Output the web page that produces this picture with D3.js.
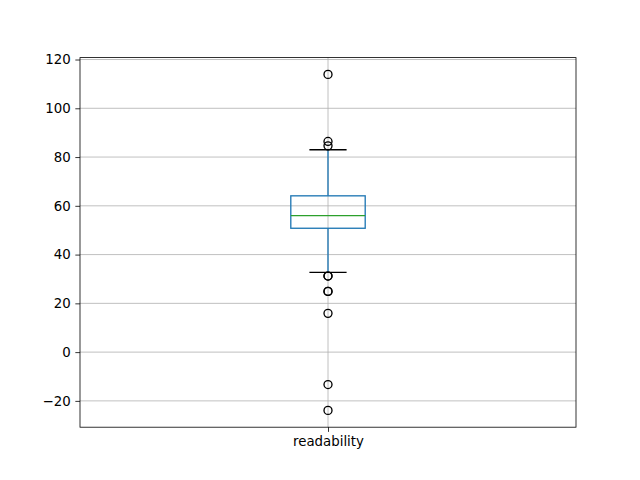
<!DOCTYPE html>
<html>
<head>
<meta charset="utf-8">
<script src="https://cdn.jsdelivr.net/npm/d3@7"></script>
<style>
  body { margin: 0; background: #fff; }
</style>
</head>
<body>
<div id="chart"></div>
<script>
const categories = ["readability"];
const q1 = [50.8];
const medians = [56];
const q3 = [64.1];
const whiskerLow = [32.7];
const whiskerHigh = [83];
const outliers = [[113.9, 86.4, 84.6, 31.2, 31.2, 24.9, 24.9, 15.9, -13.3, -23.9]];
const yTicks = [-20, 0, 20, 40, 60, 80, 100, 120];

const W = 640, H = 480;
const margin = { top: 57.6, right: 64, bottom: 52.8, left: 80 };
const width = W - margin.left - margin.right,
      height = H - margin.top - margin.bottom;

const svg = d3.select("#chart")
  .append("svg")
  .attr("width", W)
  .attr("height", H)
  .style("font-family", "'DejaVu Sans', sans-serif");

const g = svg.append("g")
  .attr("transform", `translate(${margin.left},${margin.top})`);

// x positions 1..n, matplotlib style limits
const x = d3.scaleLinear().domain([0.5, categories.length + 0.5]).range([0, width]);

const allVals = outliers.flat().concat(whiskerLow, whiskerHigh);
const lo = d3.min(allVals), hi = d3.max(allVals);
const pad = (hi - lo) * 0.05;
const y = d3.scaleLinear().domain([lo - pad, hi + pad]).range([height, 0]);

// grid
g.append("g")
  .selectAll("line.h")
  .data(yTicks)
  .enter()
  .append("line")
  .attr("x1", 0).attr("x2", width)
  .attr("y1", d => y(d)).attr("y2", d => y(d))
  .attr("stroke", "#b0b0b0").attr("stroke-width", 0.8);

g.append("g")
  .selectAll("line.v")
  .data(categories)
  .enter()
  .append("line")
  .attr("x1", (d, i) => x(i + 1)).attr("x2", (d, i) => x(i + 1))
  .attr("y1", 0).attr("y2", height)
  .attr("stroke", "#b0b0b0").attr("stroke-width", 0.8);

const boxW = x(1.075) - x(0.925);
const capW = x(1.0375) - x(0.9625);

const boxes = g.selectAll(".box")
  .data(categories)
  .enter()
  .append("g")
  .attr("class", "box");

boxes.each(function (d, i) {
  const b = d3.select(this);
  const cx = x(i + 1);
  // whiskers
  b.append("line")
    .attr("x1", cx).attr("x2", cx)
    .attr("y1", y(q1[i])).attr("y2", y(whiskerLow[i]))
    .attr("stroke", "#1f77b4").attr("stroke-width", 1.33);
  b.append("line")
    .attr("x1", cx).attr("x2", cx)
    .attr("y1", y(q3[i])).attr("y2", y(whiskerHigh[i]))
    .attr("stroke", "#1f77b4").attr("stroke-width", 1.33);
  // caps
  [whiskerLow[i], whiskerHigh[i]].forEach(v => {
    b.append("line")
      .attr("x1", cx - capW / 2).attr("x2", cx + capW / 2)
      .attr("y1", y(v)).attr("y2", y(v))
      .attr("stroke", "#000").attr("stroke-width", 1.33);
  });
  // box
  b.append("rect")
    .attr("x", cx - boxW / 2)
    .attr("y", y(q3[i]))
    .attr("width", boxW)
    .attr("height", y(q1[i]) - y(q3[i]))
    .attr("fill", "none")
    .attr("stroke", "#1f77b4").attr("stroke-width", 1.33);
  // median
  b.append("line")
    .attr("x1", cx - boxW / 2).attr("x2", cx + boxW / 2)
    .attr("y1", y(medians[i])).attr("y2", y(medians[i]))
    .attr("stroke", "#2ca02c").attr("stroke-width", 1.33);
  // fliers
  b.selectAll("circle")
    .data(outliers[i])
    .enter()
    .append("circle")
    .attr("cx", cx)
    .attr("cy", v => y(v))
    .attr("r", 4)
    .attr("fill", "none")
    .attr("stroke", "#000").attr("stroke-width", 1.33);
});

// axes
const yAxis = g.append("g")
  .call(d3.axisLeft(y).tickValues(yTicks).tickSize(4.67).tickPadding(4.67).tickFormat(d => d < 0 ? "\u2212" + Math.abs(d) : d));
const xAxis = g.append("g")
  .attr("transform", `translate(0,${height})`)
  .call(d3.axisBottom(x).tickValues(categories.map((d, i) => i + 1)).tickSize(4.67).tickPadding(4.67).tickFormat((d, i) => categories[i]));

[yAxis, xAxis].forEach(a => {
  a.select(".domain").remove();
  a.selectAll(".tick line").attr("stroke", "#000").attr("stroke-width", 0.8);
  a.selectAll("text").style("font-size", "13.33px").attr("fill", "#000")
    .style("font-family", "'DejaVu Sans', sans-serif");
});

// frame
g.append("rect")
  .attr("width", width).attr("height", height)
  .attr("fill", "none").attr("stroke", "#000").attr("stroke-width", 0.8);
</script>
</body>
</html>
